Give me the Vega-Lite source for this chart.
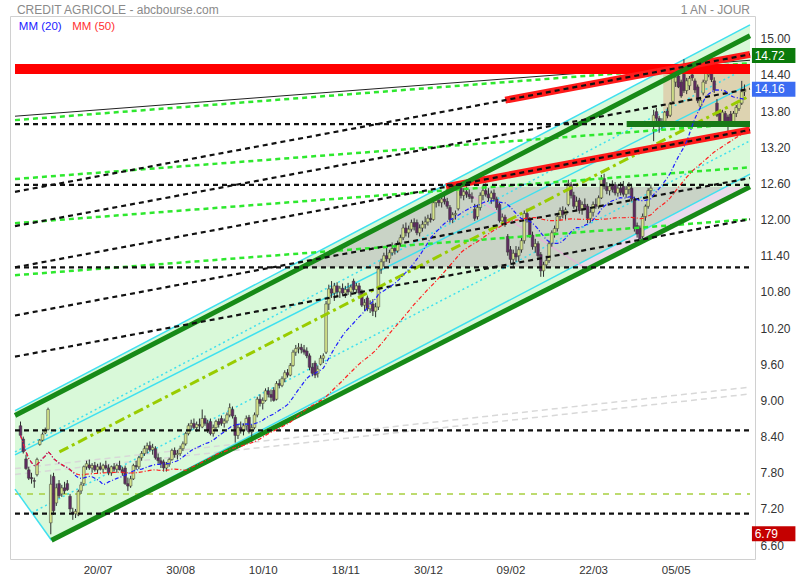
{
"$schema":"https://vega.github.io/schema/vega-lite/v6.json",
"autosize":{"type":"none"},
"width":745,"height":543,
"padding":{"left":10,"top":16,"right":45,"bottom":21},
"background":"white",
"config":{"view":{"stroke":"#d0d0d0","strokeWidth":1},"font":"Liberation Sans",
"axis":{"ticks":false,"domain":false,"grid":false,"labelPadding":5,"labelColor":"#333333","labelFont":"Liberation Sans","labelOverlap":false,"labelFlush":false},
"axisX":{"labelFontSize":11.5},"axisY":{"labelFontSize":12}},
"datasets":{
"k":[
{"t":2,"o":8.58,"h":8.65,"l":8.40,"c":8.42},{"t":3,"o":8.36,"h":8.40,"l":8.12,"c":8.15},{"t":4,"o":8.03,"h":8.10,"l":7.85,"c":7.87},{"t":5,"o":7.85,"h":7.90,"l":7.68,"c":7.71},{"t":6,"o":7.72,"h":7.80,"l":7.62,"c":7.70},{"t":7,"o":7.67,"h":7.72,"l":7.55,"c":7.66},{"t":8,"o":7.77,"h":8.05,"l":7.74,"c":8.02},{"t":9,"o":8.27,"h":8.36,"l":8.25,"c":8.34},{"t":10,"o":8.34,"h":8.47,"l":8.32,"c":8.44},{"t":11,"o":8.46,"h":8.55,"l":8.44,"c":8.50},{"t":12,"o":8.52,"h":8.88,"l":8.50,"c":8.85},{"t":13,"o":6.97,"h":7.77,"l":6.78,"c":7.61},{"t":14,"o":7.74,"h":7.80,"l":7.10,"c":7.17},{"t":15,"o":7.30,"h":7.62,"l":7.25,"c":7.55},{"t":16,"o":7.62,"h":7.68,"l":7.38,"c":7.42},{"t":17,"o":7.45,"h":7.60,"l":7.40,"c":7.55},{"t":18,"o":7.55,"h":7.65,"l":7.45,"c":7.50},{"t":19,"o":7.62,"h":7.68,"l":7.50,"c":7.52},{"t":20,"o":7.41,"h":7.45,"l":7.15,"c":7.20},{"t":21,"o":7.15,"h":7.22,"l":7.02,"c":7.13},{"t":22,"o":7.12,"h":7.20,"l":7.05,"c":7.16},{"t":23,"o":7.10,"h":7.52,"l":7.08,"c":7.49},{"t":24,"o":7.50,"h":7.65,"l":7.45,"c":7.60},{"t":25,"o":7.62,"h":7.92,"l":7.58,"c":7.90},{"t":26,"o":7.90,"h":8.00,"l":7.85,"c":7.95},
{"t":27,"o":7.93,"h":8.02,"l":7.85,"c":7.88},{"t":28,"o":7.88,"h":7.96,"l":7.80,"c":7.92},{"t":29,"o":7.92,"h":7.98,"l":7.82,"c":7.85},{"t":30,"o":7.85,"h":7.95,"l":7.78,"c":7.90},{"t":31,"o":7.90,"h":7.97,"l":7.84,"c":7.86},{"t":32,"o":7.86,"h":7.95,"l":7.80,"c":7.92},{"t":33,"o":7.92,"h":8.00,"l":7.85,"c":7.88},{"t":34,"o":7.88,"h":7.94,"l":7.76,"c":7.80},{"t":35,"o":7.80,"h":7.92,"l":7.75,"c":7.90},{"t":36,"o":7.90,"h":7.96,"l":7.82,"c":7.86},{"t":37,"o":7.86,"h":7.95,"l":7.80,"c":7.92},{"t":38,"o":7.92,"h":8.00,"l":7.84,"c":7.85},{"t":39,"o":7.85,"h":7.90,"l":7.75,"c":7.80},{"t":40,"o":7.88,"h":7.92,"l":7.60,"c":7.62},{"t":41,"o":7.62,"h":7.72,"l":7.50,"c":7.58},{"t":42,"o":7.58,"h":7.75,"l":7.55,"c":7.70},{"t":43,"o":7.70,"h":7.95,"l":7.68,"c":7.92},{"t":44,"o":7.92,"h":8.00,"l":7.85,"c":7.90},{"t":45,"o":7.90,"h":8.08,"l":7.86,"c":8.05},{"t":46,"o":8.05,"h":8.16,"l":8.00,"c":8.12},{"t":47,"o":8.12,"h":8.25,"l":8.08,"c":8.20},{"t":48,"o":8.20,"h":8.30,"l":8.12,"c":8.25},{"t":49,"o":8.25,"h":8.32,"l":8.15,"c":8.18},{"t":50,"o":8.18,"h":8.28,"l":8.10,"c":8.22},
{"t":51,"o":8.20,"h":8.24,"l":8.02,"c":8.05},{"t":52,"o":8.05,"h":8.12,"l":7.95,"c":8.00},{"t":53,"o":8.00,"h":8.06,"l":7.88,"c":7.95},{"t":54,"o":7.98,"h":8.02,"l":7.82,"c":7.88},{"t":55,"o":7.88,"h":7.98,"l":7.82,"c":7.94},{"t":56,"o":7.94,"h":8.05,"l":7.90,"c":8.02},{"t":57,"o":8.02,"h":8.20,"l":8.00,"c":8.17},{"t":58,"o":8.17,"h":8.22,"l":8.05,"c":8.10},{"t":59,"o":8.10,"h":8.18,"l":8.02,"c":8.12},{"t":60,"o":8.12,"h":8.25,"l":8.08,"c":8.20},{"t":61,"o":8.20,"h":8.32,"l":8.16,"c":8.28},{"t":62,"o":8.28,"h":8.48,"l":8.25,"c":8.45},{"t":63,"o":8.45,"h":8.62,"l":8.42,"c":8.58},{"t":64,"o":8.58,"h":8.68,"l":8.50,"c":8.62},{"t":65,"o":8.62,"h":8.70,"l":8.52,"c":8.55},{"t":66,"o":8.55,"h":8.65,"l":8.48,"c":8.60},{"t":67,"o":8.60,"h":8.70,"l":8.52,"c":8.58},{"t":68,"o":8.56,"h":8.85,"l":8.54,"c":8.70},{"t":69,"o":8.70,"h":8.75,"l":8.58,"c":8.62},{"t":70,"o":8.62,"h":8.68,"l":8.46,"c":8.50},{"t":71,"o":8.65,"h":8.70,"l":8.42,"c":8.45},{"t":72,"o":8.45,"h":8.60,"l":8.40,"c":8.55},{"t":73,"o":8.55,"h":8.68,"l":8.50,"c":8.65},{"t":74,"o":8.65,"h":8.70,"l":8.55,"c":8.60},{"t":75,"o":8.70,"h":8.75,"l":8.58,"c":8.62},
{"t":76,"o":8.62,"h":8.70,"l":8.55,"c":8.66},{"t":77,"o":8.66,"h":8.80,"l":8.62,"c":8.76},{"t":78,"o":8.76,"h":8.95,"l":8.72,"c":8.88},{"t":79,"o":8.85,"h":8.90,"l":8.70,"c":8.74},{"t":80,"o":8.72,"h":8.76,"l":8.30,"c":8.42},{"t":81,"o":8.42,"h":8.60,"l":8.36,"c":8.55},{"t":82,"o":8.55,"h":8.65,"l":8.45,"c":8.50},{"t":83,"o":8.50,"h":8.62,"l":8.42,"c":8.58},{"t":84,"o":8.58,"h":8.75,"l":8.50,"c":8.70},{"t":85,"o":8.72,"h":8.76,"l":8.45,"c":8.48},{"t":86,"o":8.48,"h":8.60,"l":8.30,"c":8.55},{"t":87,"o":8.55,"h":8.80,"l":8.52,"c":8.76},{"t":88,"o":8.76,"h":9.06,"l":8.72,"c":9.02},{"t":89,"o":9.02,"h":9.10,"l":8.90,"c":8.95},{"t":90,"o":8.95,"h":9.05,"l":8.85,"c":9.00},{"t":91,"o":9.00,"h":9.20,"l":8.98,"c":9.16},{"t":92,"o":9.16,"h":9.22,"l":9.05,"c":9.10},{"t":93,"o":9.10,"h":9.18,"l":8.98,"c":9.05},{"t":94,"o":9.17,"h":9.22,"l":8.98,"c":9.00},{"t":95,"o":9.02,"h":9.32,"l":9.00,"c":9.28},{"t":96,"o":9.28,"h":9.35,"l":9.20,"c":9.25},{"t":97,"o":9.25,"h":9.40,"l":9.22,"c":9.36},{"t":98,"o":9.36,"h":9.50,"l":9.30,"c":9.46},{"t":99,"o":9.46,"h":9.52,"l":9.38,"c":9.42},{"t":100,"o":9.42,"h":9.62,"l":9.40,"c":9.58},
{"t":101,"o":9.58,"h":9.84,"l":9.56,"c":9.80},{"t":102,"o":9.80,"h":9.92,"l":9.74,"c":9.86},{"t":103,"o":9.86,"h":9.95,"l":9.78,"c":9.88},{"t":104,"o":9.88,"h":9.94,"l":9.78,"c":9.84},{"t":105,"o":9.84,"h":9.92,"l":9.76,"c":9.80},{"t":106,"o":9.82,"h":9.88,"l":9.70,"c":9.74},{"t":107,"o":9.74,"h":9.78,"l":9.50,"c":9.55},{"t":108,"o":9.55,"h":9.62,"l":9.40,"c":9.45},{"t":109,"o":9.62,"h":9.66,"l":9.37,"c":9.42},{"t":110,"o":9.45,"h":9.58,"l":9.38,"c":9.52},{"t":111,"o":9.60,"h":9.75,"l":9.58,"c":9.70},{"t":112,"o":9.70,"h":9.78,"l":9.62,"c":9.74},{"t":113,"o":9.80,"h":10.65,"l":9.77,"c":10.60},{"t":114,"o":10.60,"h":10.92,"l":10.50,"c":10.85},{"t":115,"o":10.85,"h":10.98,"l":10.70,"c":10.78},{"t":116,"o":10.78,"h":10.95,"l":10.65,"c":10.90},{"t":117,"o":10.90,"h":10.96,"l":10.72,"c":10.80},{"t":118,"o":10.80,"h":10.90,"l":10.70,"c":10.86},{"t":119,"o":10.86,"h":10.94,"l":10.74,"c":10.78},{"t":120,"o":10.78,"h":10.90,"l":10.70,"c":10.84},{"t":121,"o":10.84,"h":10.95,"l":10.75,"c":10.80},{"t":122,"o":10.80,"h":10.92,"l":10.72,"c":10.88},{"t":123,"o":10.98,"h":11.02,"l":10.80,"c":10.84},{"t":124,"o":10.84,"h":10.95,"l":10.78,"c":10.90},{"t":125,"o":10.90,"h":10.95,"l":10.74,"c":10.78},
{"t":126,"o":10.80,"h":10.84,"l":10.55,"c":10.58},{"t":127,"o":10.58,"h":10.68,"l":10.48,"c":10.62},{"t":128,"o":10.70,"h":10.74,"l":10.48,"c":10.52},{"t":129,"o":10.52,"h":10.66,"l":10.45,"c":10.60},{"t":130,"o":10.60,"h":10.68,"l":10.40,"c":10.48},{"t":131,"o":10.48,"h":10.62,"l":10.38,"c":10.55},{"t":132,"o":10.55,"h":11.22,"l":10.50,"c":11.18},{"t":133,"o":11.18,"h":11.35,"l":11.10,"c":11.30},{"t":134,"o":11.30,"h":11.45,"l":11.22,"c":11.40},{"t":135,"o":11.40,"h":11.55,"l":11.30,"c":11.35},{"t":136,"o":11.35,"h":11.50,"l":11.28,"c":11.45},{"t":137,"o":11.45,"h":11.62,"l":11.40,"c":11.52},{"t":138,"o":11.52,"h":11.60,"l":11.42,"c":11.48},{"t":139,"o":11.48,"h":11.65,"l":11.45,"c":11.60},{"t":140,"o":11.60,"h":11.75,"l":11.55,"c":11.70},{"t":141,"o":11.70,"h":11.92,"l":11.66,"c":11.86},{"t":142,"o":11.86,"h":11.95,"l":11.72,"c":11.78},{"t":143,"o":11.78,"h":11.90,"l":11.70,"c":11.84},{"t":144,"o":11.84,"h":12.00,"l":11.80,"c":11.95},{"t":145,"o":11.95,"h":12.02,"l":11.82,"c":11.88},{"t":146,"o":11.95,"h":12.00,"l":11.74,"c":11.78},{"t":147,"o":11.78,"h":11.92,"l":11.72,"c":11.86},{"t":148,"o":11.86,"h":11.98,"l":11.80,"c":11.92},{"t":149,"o":11.92,"h":12.05,"l":11.85,"c":11.96},{"t":150,"o":11.96,"h":12.08,"l":11.90,"c":12.02},
{"t":151,"o":12.02,"h":12.10,"l":11.95,"c":12.00},{"t":152,"o":12.00,"h":12.32,"l":11.98,"c":12.28},{"t":153,"o":12.28,"h":12.38,"l":12.20,"c":12.32},{"t":154,"o":12.32,"h":12.40,"l":12.22,"c":12.28},{"t":155,"o":12.28,"h":12.38,"l":12.20,"c":12.34},{"t":156,"o":12.34,"h":12.42,"l":12.25,"c":12.30},{"t":157,"o":12.30,"h":12.36,"l":12.18,"c":12.22},{"t":158,"o":12.20,"h":12.24,"l":11.95,"c":12.00},{"t":159,"o":12.00,"h":12.12,"l":11.94,"c":12.08},{"t":160,"o":12.08,"h":12.15,"l":12.00,"c":12.10},{"t":161,"o":12.18,"h":12.62,"l":12.15,"c":12.52},{"t":162,"o":12.52,"h":12.60,"l":12.35,"c":12.40},{"t":163,"o":12.40,"h":12.52,"l":12.32,"c":12.46},{"t":164,"o":12.46,"h":12.55,"l":12.36,"c":12.42},{"t":165,"o":12.42,"h":12.50,"l":12.34,"c":12.38},{"t":166,"o":12.38,"h":12.45,"l":12.28,"c":12.35},{"t":167,"o":12.17,"h":12.26,"l":11.98,"c":12.02},{"t":168,"o":12.05,"h":12.25,"l":12.00,"c":12.20},{"t":169,"o":12.20,"h":12.45,"l":12.15,"c":12.40},{"t":170,"o":12.40,"h":12.58,"l":12.32,"c":12.48},{"t":171,"o":12.48,"h":12.60,"l":12.38,"c":12.42},{"t":172,"o":12.42,"h":12.52,"l":12.30,"c":12.36},{"t":173,"o":12.36,"h":12.48,"l":12.26,"c":12.44},{"t":174,"o":12.44,"h":12.50,"l":12.30,"c":12.34},{"t":175,"o":12.34,"h":12.38,"l":12.16,"c":12.20},
{"t":176,"o":12.25,"h":12.28,"l":11.95,"c":11.98},{"t":177,"o":11.98,"h":12.10,"l":11.90,"c":12.04},{"t":178,"o":12.04,"h":12.08,"l":11.88,"c":11.92},{"t":179,"o":11.72,"h":11.76,"l":11.40,"c":11.46},{"t":180,"o":11.50,"h":11.56,"l":11.28,"c":11.34},{"t":181,"o":11.34,"h":11.50,"l":11.20,"c":11.44},{"t":182,"o":11.44,"h":11.56,"l":11.30,"c":11.38},{"t":183,"o":11.40,"h":11.55,"l":11.30,"c":11.50},{"t":184,"o":11.50,"h":11.70,"l":11.45,"c":11.65},{"t":185,"o":11.65,"h":12.15,"l":11.60,"c":12.10},{"t":186,"o":12.10,"h":12.18,"l":11.95,"c":12.00},{"t":187,"o":12.00,"h":12.04,"l":11.70,"c":11.74},{"t":188,"o":11.74,"h":11.80,"l":11.50,"c":11.55},{"t":189,"o":11.55,"h":11.68,"l":11.45,"c":11.60},{"t":190,"o":11.60,"h":11.64,"l":11.35,"c":11.40},{"t":191,"o":11.42,"h":11.46,"l":11.05,"c":11.15},{"t":192,"o":11.15,"h":11.30,"l":11.05,"c":11.25},{"t":193,"o":11.25,"h":11.40,"l":11.20,"c":11.32},{"t":194,"o":11.32,"h":11.65,"l":11.28,"c":11.60},{"t":195,"o":11.60,"h":11.82,"l":11.55,"c":11.78},{"t":196,"o":11.78,"h":11.90,"l":11.70,"c":11.85},{"t":197,"o":11.85,"h":12.10,"l":11.80,"c":12.05},{"t":198,"o":12.05,"h":12.20,"l":11.98,"c":12.15},{"t":199,"o":12.15,"h":12.22,"l":12.02,"c":12.08},{"t":200,"o":12.08,"h":12.20,"l":12.00,"c":12.16},
{"t":201,"o":12.25,"h":12.66,"l":12.22,"c":12.60},{"t":202,"o":12.58,"h":12.62,"l":12.35,"c":12.40},{"t":203,"o":12.40,"h":12.46,"l":12.18,"c":12.22},{"t":204,"o":12.22,"h":12.38,"l":12.15,"c":12.30},{"t":205,"o":12.32,"h":12.36,"l":12.10,"c":12.15},{"t":206,"o":12.15,"h":12.30,"l":12.08,"c":12.25},{"t":207,"o":12.25,"h":12.35,"l":12.15,"c":12.20},{"t":208,"o":12.22,"h":12.26,"l":11.94,"c":12.02},{"t":209,"o":12.02,"h":12.18,"l":11.95,"c":12.12},{"t":210,"o":12.12,"h":12.30,"l":12.05,"c":12.25},{"t":211,"o":12.25,"h":12.35,"l":12.18,"c":12.22},{"t":212,"o":12.22,"h":12.40,"l":12.18,"c":12.36},{"t":213,"o":12.36,"h":12.74,"l":12.34,"c":12.68},{"t":214,"o":12.68,"h":12.76,"l":12.50,"c":12.55},{"t":215,"o":12.55,"h":12.62,"l":12.42,"c":12.48},{"t":216,"o":12.48,"h":12.60,"l":12.40,"c":12.55},{"t":217,"o":12.55,"h":12.65,"l":12.45,"c":12.50},{"t":218,"o":12.58,"h":12.62,"l":12.40,"c":12.44},{"t":219,"o":12.44,"h":12.58,"l":12.38,"c":12.52},{"t":220,"o":12.52,"h":12.62,"l":12.40,"c":12.45},{"t":221,"o":12.55,"h":12.64,"l":12.38,"c":12.42},{"t":222,"o":12.42,"h":12.56,"l":12.36,"c":12.50},{"t":223,"o":12.50,"h":12.62,"l":12.42,"c":12.55},{"t":224,"o":12.52,"h":12.56,"l":12.30,"c":12.34},{"t":225,"o":12.34,"h":12.38,"l":11.80,"c":11.85},
{"t":226,"o":11.90,"h":11.95,"l":11.70,"c":11.76},{"t":227,"o":11.86,"h":11.90,"l":11.62,"c":11.68},{"t":228,"o":11.72,"h":12.10,"l":11.68,"c":12.05},{"t":229,"o":12.05,"h":12.25,"l":11.98,"c":12.22},{"t":230,"o":12.22,"h":12.52,"l":12.18,"c":12.48},{"t":231,"o":12.48,"h":12.58,"l":12.40,"c":12.52},{"t":232,"o":13.60,"h":13.82,"l":13.30,"c":13.73},{"t":233,"o":13.79,"h":13.85,"l":13.62,"c":13.68},{"t":234,"o":13.68,"h":13.72,"l":13.44,"c":13.55},{"t":235,"o":13.58,"h":13.68,"l":13.50,"c":13.62},{"t":236,"o":13.63,"h":13.80,"l":13.58,"c":13.78},{"t":237,"o":13.80,"h":13.86,"l":13.68,"c":13.72},{"t":238,"o":13.73,"h":13.95,"l":13.70,"c":13.92},{"t":239,"o":13.96,"h":14.40,"l":13.94,"c":14.37},{"t":240,"o":14.28,"h":14.40,"l":14.20,"c":14.36},{"t":241,"o":14.38,"h":14.45,"l":14.18,"c":14.20},{"t":242,"o":14.28,"h":14.32,"l":14.02,"c":14.05},{"t":243,"o":14.41,"h":14.66,"l":14.10,"c":14.14},{"t":244,"o":14.14,"h":14.35,"l":14.08,"c":14.30},{"t":245,"o":14.22,"h":14.38,"l":14.15,"c":14.34},{"t":246,"o":14.40,"h":14.45,"l":14.30,"c":14.35},{"t":247,"o":14.30,"h":14.34,"l":14.10,"c":14.15},{"t":248,"o":14.20,"h":14.24,"l":13.93,"c":13.97},{"t":249,"o":13.88,"h":14.02,"l":13.84,"c":13.98},{"t":250,"o":14.10,"h":14.32,"l":14.06,"c":14.28},
{"t":251,"o":14.30,"h":14.48,"l":14.25,"c":14.45},{"t":252,"o":14.40,"h":14.72,"l":14.36,"c":14.46},{"t":253,"o":14.46,"h":14.52,"l":14.28,"c":14.32},{"t":254,"o":14.30,"h":14.36,"l":14.10,"c":14.15},{"t":255,"o":13.93,"h":14.00,"l":13.70,"c":13.73},{"t":256,"o":13.76,"h":13.82,"l":13.58,"c":13.62},{"t":257,"o":13.62,"h":13.82,"l":13.58,"c":13.78},{"t":258,"o":13.76,"h":13.80,"l":13.55,"c":13.60},{"t":259,"o":13.70,"h":13.74,"l":13.39,"c":13.62},{"t":260,"o":13.75,"h":13.80,"l":13.55,"c":13.60},{"t":261,"o":13.62,"h":13.80,"l":13.58,"c":13.76},{"t":262,"o":13.76,"h":13.90,"l":13.70,"c":13.86},{"t":263,"o":13.84,"h":13.98,"l":13.80,"c":13.95},{"t":264,"o":13.93,"h":14.30,"l":13.90,"c":14.12},{"t":265,"o":14.12,"h":14.24,"l":14.05,"c":14.16}
],
"zones":[
{"zone":"channel","t":0,"top":8.830,"bot":7.528},{"zone":"channel","t":13.26,"top":9.148,"bot":6.681},{"zone":"channel","t":267,"top":15.228,"bot":12.542},
{"zone":"range","t":104.1,"top":11.207,"bot":11.207},{"zone":"range","t":160.6,"top":12.541,"bot":11.207},{"zone":"range","t":202.2,"top":12.541,"bot":11.207},{"zone":"range","t":258.1,"top":12.541,"bot":12.541},
{"zone":"wedge","t":202.2,"top":11.207,"bot":11.207},{"zone":"wedge","t":208.6,"top":11.355,"bot":11.207},{"zone":"wedge","t":258.1,"top":12.541,"bot":12.335},{"zone":"wedge","t":266.3,"top":12.541,"bot":12.541}
],
"box":[{"t":235.5,"t2":267,"top":14.446,"bot":13.617}],
"lines":[
{"id":"s1","kind":"support","t":0,"p":13.584},{"id":"s1","kind":"support","t":267,"p":13.584},
{"id":"s2","kind":"support","t":0,"p":12.574},{"id":"s2","kind":"support","t":267,"p":12.574},
{"id":"s3","kind":"support","t":0,"p":11.207},{"id":"s3","kind":"support","t":267,"p":11.207},
{"id":"s4","kind":"support","t":0,"p":8.505},{"id":"s4","kind":"support","t":267,"p":8.505},
{"id":"s5","kind":"support","t":0,"p":7.121},{"id":"s5","kind":"support","t":267,"p":7.121},
{"id":"y1","kind":"minor","t":0,"p":7.447},{"id":"y1","kind":"minor","t":267,"p":7.447},
{"id":"v1","kind":"level","t":222.2,"p":13.584},{"id":"v1","kind":"level","t":267,"p":13.584},
{"id":"a1","kind":"ref","t":0,"p":13.714},{"id":"a1","kind":"ref","t":267,"p":14.642},
{"id":"g1","kind":"trendG","t":0,"p":13.649},{"id":"g1","kind":"trendG","t":267,"p":14.593},
{"id":"g2","kind":"trendG","t":0,"p":12.672},{"id":"g2","kind":"trendG","t":267,"p":13.600},
{"id":"g3","kind":"trendG","t":0,"p":11.939},{"id":"g3","kind":"trendG","t":267,"p":12.867},
{"id":"g4","kind":"trendG","t":0,"p":11.077},{"id":"g4","kind":"trendG","t":267,"p":12.005},
{"id":"b1","kind":"trendB","t":0,"p":12.460},{"id":"b1","kind":"trendB","t":267,"p":14.739},
{"id":"b2","kind":"trendB","t":0,"p":11.891},{"id":"b2","kind":"trendB","t":267,"p":14.170},
{"id":"b3","kind":"trendB","t":0,"p":11.207},{"id":"b3","kind":"trendB","t":267,"p":13.486},
{"id":"b4","kind":"trendB","t":0,"p":10.409},{"id":"b4","kind":"trendB","t":267,"p":12.688},
{"id":"b5","kind":"trendB","t":0,"p":9.726},{"id":"b5","kind":"trendB","t":267,"p":12.005},
{"id":"r1","kind":"resist","t":156.6,"p":12.545},{"id":"r1","kind":"resist","t":267,"p":13.486},
{"id":"r2","kind":"resist","t":178.1,"p":13.981},{"id":"r2","kind":"resist","t":267,"p":14.739},
{"id":"h1","kind":"band","t":0,"p":14.495},{"id":"h1","kind":"band","t":267,"p":14.495},
{"id":"ch1","kind":"channel","t":0,"p":8.749},{"id":"ch1","kind":"channel","t":267,"p":15.049},
{"id":"ch2","kind":"channel","t":13.26,"p":6.681},{"id":"ch2","kind":"channel","t":267,"p":12.542},
{"id":"c1","kind":"reg","t":0,"p":8.830},{"id":"c1","kind":"reg","t":267,"p":15.228},
{"id":"c2","kind":"reg","t":0,"p":8.098},{"id":"c2","kind":"reg","t":267,"p":14.251},
{"id":"c4","kind":"reg","t":13.26,"p":6.681},{"id":"c4","kind":"reg","t":267,"p":12.753},
{"id":"c5","kind":"reg","t":0,"p":7.528},{"id":"c5","kind":"reg","t":13.26,"p":6.681},
{"id":"d1","kind":"regdot","t":0,"p":8.146},{"id":"d1","kind":"regdot","t":267,"p":14.544},
{"id":"d2","kind":"regdot","t":6.09,"p":7.137},{"id":"d2","kind":"regdot","t":267,"p":13.307},
{"id":"m1","kind":"median","t":16.13,"p":8.146},{"id":"m1","kind":"median","t":267,"p":14.056},
{"id":"f1","kind":"faint","t":0,"p":7.870},{"id":"f1","kind":"faint","t":267,"p":9.221},
{"id":"f2","kind":"faint","t":0,"p":7.772},{"id":"f2","kind":"faint","t":267,"p":9.107},
{"id":"k1","kind":"diag","t":160.2,"p":12.558},{"id":"k1","kind":"diag","t":206.8,"p":11.207}
],
"tags":[{"lab":"14.72","p":14.72},{"lab":"14.16","p":14.16},{"lab":"6.79","p":6.79}]
},
"layer":[
{"data":{"name":"zones"},"transform":[{"filter":"datum.zone=='channel'"}],"mark":{"type":"area","color":"#d9f9d9","clip":true},"encoding":{"x":{"field":"t","type":"quantitative","title":null,"scale":{"domain":[0,267],"nice":false,"zero":false},"axis":{"values":[30,60,90,120,150,180,210,240],"labelExpr":"['20/07','30/08','10/10','18/11','30/12','09/02','22/03','05/05'][round(datum.value/30)-1]","labelOverlap":false,"title":null}},"y":{"field":"top","type":"quantitative","title":null,"scale":{"domain":[6.453,15.293],"nice":false,"zero":false},"axis":{"orient":"right","values":[6.6,7.2,7.8,8.4,9.0,9.6,10.2,10.8,11.4,12.0,12.6,13.2,13.8,14.4,15.0],"format":".2f","labelOverlap":false,"title":null}},"y2":{"field":"bot"}}},
{"data":{"name":"zones"},"transform":[{"filter":"datum.zone=='range'"}],"mark":{"type":"area","color":"#c9d3c6","clip":true},"encoding":{"x":{"field":"t","type":"quantitative","title":null,"scale":{"domain":[0,267],"nice":false,"zero":false},"axis":{"values":[30,60,90,120,150,180,210,240],"labelExpr":"['20/07','30/08','10/10','18/11','30/12','09/02','22/03','05/05'][round(datum.value/30)-1]","labelOverlap":false,"title":null}},"y":{"field":"top","type":"quantitative","title":null,"scale":{"domain":[6.453,15.293],"nice":false,"zero":false},"axis":{"orient":"right","values":[6.6,7.2,7.8,8.4,9.0,9.6,10.2,10.8,11.4,12.0,12.6,13.2,13.8,14.4,15.0],"format":".2f","labelOverlap":false,"title":null}},"y2":{"field":"bot"}}},
{"data":{"name":"zones"},"transform":[{"filter":"datum.zone=='wedge'"}],"mark":{"type":"area","color":"#eadbea","clip":true},"encoding":{"x":{"field":"t","type":"quantitative","title":null,"scale":{"domain":[0,267],"nice":false,"zero":false},"axis":{"values":[30,60,90,120,150,180,210,240],"labelExpr":"['20/07','30/08','10/10','18/11','30/12','09/02','22/03','05/05'][round(datum.value/30)-1]","labelOverlap":false,"title":null}},"y":{"field":"top","type":"quantitative","title":null,"scale":{"domain":[6.453,15.293],"nice":false,"zero":false},"axis":{"orient":"right","values":[6.6,7.2,7.8,8.4,9.0,9.6,10.2,10.8,11.4,12.0,12.6,13.2,13.8,14.4,15.0],"format":".2f","labelOverlap":false,"title":null}},"y2":{"field":"bot"}}},
{"data":{"name":"box"},"mark":{"type":"rect","color":"#ddd3b1","clip":true},"encoding":{"x":{"field":"t","type":"quantitative","title":null,"scale":{"domain":[0,267],"nice":false,"zero":false},"axis":{"values":[30,60,90,120,150,180,210,240],"labelExpr":"['20/07','30/08','10/10','18/11','30/12','09/02','22/03','05/05'][round(datum.value/30)-1]","labelOverlap":false,"title":null}},"x2":{"field":"t2"},"y":{"field":"top","type":"quantitative","title":null,"scale":{"domain":[6.453,15.293],"nice":false,"zero":false},"axis":{"orient":"right","values":[6.6,7.2,7.8,8.4,9.0,9.6,10.2,10.8,11.4,12.0,12.6,13.2,13.8,14.4,15.0],"format":".2f","labelOverlap":false,"title":null}},"y2":{"field":"bot"}}},
{"data":{"name":"lines"},"transform":[{"filter":"datum.kind=='faint'"}],"mark":{"type":"line","color":"#d8d8d8","strokeWidth":1.5,"strokeDash":[6,4],"clip":true},"encoding":{"x":{"field":"t","type":"quantitative","title":null,"scale":{"domain":[0,267],"nice":false,"zero":false},"axis":{"values":[30,60,90,120,150,180,210,240],"labelExpr":"['20/07','30/08','10/10','18/11','30/12','09/02','22/03','05/05'][round(datum.value/30)-1]","labelOverlap":false,"title":null}},"y":{"field":"p","type":"quantitative","title":null,"scale":{"domain":[6.453,15.293],"nice":false,"zero":false},"axis":{"orient":"right","values":[6.6,7.2,7.8,8.4,9.0,9.6,10.2,10.8,11.4,12.0,12.6,13.2,13.8,14.4,15.0],"format":".2f","labelOverlap":false,"title":null}},"detail":{"field":"id"}}},
{"data":{"name":"lines"},"transform":[{"filter":"datum.kind=='minor'"}],"mark":{"type":"line","color":"#a8d040","strokeWidth":1.5,"strokeDash":[6,6],"clip":true},"encoding":{"x":{"field":"t","type":"quantitative","title":null,"scale":{"domain":[0,267],"nice":false,"zero":false},"axis":{"values":[30,60,90,120,150,180,210,240],"labelExpr":"['20/07','30/08','10/10','18/11','30/12','09/02','22/03','05/05'][round(datum.value/30)-1]","labelOverlap":false,"title":null}},"y":{"field":"p","type":"quantitative","title":null,"scale":{"domain":[6.453,15.293],"nice":false,"zero":false},"axis":{"orient":"right","values":[6.6,7.2,7.8,8.4,9.0,9.6,10.2,10.8,11.4,12.0,12.6,13.2,13.8,14.4,15.0],"format":".2f","labelOverlap":false,"title":null}},"detail":{"field":"id"}}},
{"data":{"name":"lines"},"transform":[{"filter":"datum.kind=='reg'"}],"mark":{"type":"line","color":"#3fe0ef","strokeWidth":1.5,"clip":true},"encoding":{"x":{"field":"t","type":"quantitative","title":null,"scale":{"domain":[0,267],"nice":false,"zero":false},"axis":{"values":[30,60,90,120,150,180,210,240],"labelExpr":"['20/07','30/08','10/10','18/11','30/12','09/02','22/03','05/05'][round(datum.value/30)-1]","labelOverlap":false,"title":null}},"y":{"field":"p","type":"quantitative","title":null,"scale":{"domain":[6.453,15.293],"nice":false,"zero":false},"axis":{"orient":"right","values":[6.6,7.2,7.8,8.4,9.0,9.6,10.2,10.8,11.4,12.0,12.6,13.2,13.8,14.4,15.0],"format":".2f","labelOverlap":false,"title":null}},"detail":{"field":"id"}}},
{"data":{"name":"lines"},"transform":[{"filter":"datum.kind=='regdot'"}],"mark":{"type":"line","color":"#3fe0ef","strokeWidth":1.5,"strokeDash":[2,3],"clip":true},"encoding":{"x":{"field":"t","type":"quantitative","title":null,"scale":{"domain":[0,267],"nice":false,"zero":false},"axis":{"values":[30,60,90,120,150,180,210,240],"labelExpr":"['20/07','30/08','10/10','18/11','30/12','09/02','22/03','05/05'][round(datum.value/30)-1]","labelOverlap":false,"title":null}},"y":{"field":"p","type":"quantitative","title":null,"scale":{"domain":[6.453,15.293],"nice":false,"zero":false},"axis":{"orient":"right","values":[6.6,7.2,7.8,8.4,9.0,9.6,10.2,10.8,11.4,12.0,12.6,13.2,13.8,14.4,15.0],"format":".2f","labelOverlap":false,"title":null}},"detail":{"field":"id"}}},
{"data":{"name":"lines"},"transform":[{"filter":"datum.kind=='diag'"}],"mark":{"type":"line","color":"#e2b6d6","strokeWidth":1.5,"clip":true},"encoding":{"x":{"field":"t","type":"quantitative","title":null,"scale":{"domain":[0,267],"nice":false,"zero":false},"axis":{"values":[30,60,90,120,150,180,210,240],"labelExpr":"['20/07','30/08','10/10','18/11','30/12','09/02','22/03','05/05'][round(datum.value/30)-1]","labelOverlap":false,"title":null}},"y":{"field":"p","type":"quantitative","title":null,"scale":{"domain":[6.453,15.293],"nice":false,"zero":false},"axis":{"orient":"right","values":[6.6,7.2,7.8,8.4,9.0,9.6,10.2,10.8,11.4,12.0,12.6,13.2,13.8,14.4,15.0],"format":".2f","labelOverlap":false,"title":null}},"detail":{"field":"id"}}},
{"data":{"name":"k"},"mark":{"type":"rule","color":"#2e2e2e","strokeWidth":1,"clip":true},"encoding":{"x":{"field":"t","type":"quantitative","title":null,"scale":{"domain":[0,267],"nice":false,"zero":false},"axis":{"values":[30,60,90,120,150,180,210,240],"labelExpr":"['20/07','30/08','10/10','18/11','30/12','09/02','22/03','05/05'][round(datum.value/30)-1]","labelOverlap":false,"title":null}},"y":{"field":"l","type":"quantitative","title":null,"scale":{"domain":[6.453,15.293],"nice":false,"zero":false},"axis":{"orient":"right","values":[6.6,7.2,7.8,8.4,9.0,9.6,10.2,10.8,11.4,12.0,12.6,13.2,13.8,14.4,15.0],"format":".2f","labelOverlap":false,"title":null}},"y2":{"field":"h"}}},
{"data":{"name":"k"},"mark":{"type":"bar","orient":"vertical","size":2.7,"stroke":"#3a3a3a","strokeWidth":0.5,"clip":true},"encoding":{"x":{"field":"t","type":"quantitative","title":null,"scale":{"domain":[0,267],"nice":false,"zero":false},"axis":{"values":[30,60,90,120,150,180,210,240],"labelExpr":"['20/07','30/08','10/10','18/11','30/12','09/02','22/03','05/05'][round(datum.value/30)-1]","labelOverlap":false,"title":null}},"y":{"field":"o","type":"quantitative","title":null,"scale":{"domain":[6.453,15.293],"nice":false,"zero":false},"axis":{"orient":"right","values":[6.6,7.2,7.8,8.4,9.0,9.6,10.2,10.8,11.4,12.0,12.6,13.2,13.8,14.4,15.0],"format":".2f","labelOverlap":false,"title":null}},"y2":{"field":"c"},"fill":{"condition":{"test":"datum.c >= datum.o","value":"#d3e38a"},"value":"#5e2b60"}}},
{"data":{"name":"lines"},"transform":[{"filter":"datum.kind=='median'"}],"mark":{"type":"line","color":"#99cc00","strokeWidth":3,"strokeDash":[10,4,3,4],"clip":true},"encoding":{"x":{"field":"t","type":"quantitative","title":null,"scale":{"domain":[0,267],"nice":false,"zero":false},"axis":{"values":[30,60,90,120,150,180,210,240],"labelExpr":"['20/07','30/08','10/10','18/11','30/12','09/02','22/03','05/05'][round(datum.value/30)-1]","labelOverlap":false,"title":null}},"y":{"field":"p","type":"quantitative","title":null,"scale":{"domain":[6.453,15.293],"nice":false,"zero":false},"axis":{"orient":"right","values":[6.6,7.2,7.8,8.4,9.0,9.6,10.2,10.8,11.4,12.0,12.6,13.2,13.8,14.4,15.0],"format":".2f","labelOverlap":false,"title":null}},"detail":{"field":"id"}}},
{"data":{"name":"lines"},"transform":[{"filter":"datum.kind=='trendG'"}],"mark":{"type":"line","color":"#2ee82e","strokeWidth":2.5,"strokeDash":[5,4],"clip":true},"encoding":{"x":{"field":"t","type":"quantitative","title":null,"scale":{"domain":[0,267],"nice":false,"zero":false},"axis":{"values":[30,60,90,120,150,180,210,240],"labelExpr":"['20/07','30/08','10/10','18/11','30/12','09/02','22/03','05/05'][round(datum.value/30)-1]","labelOverlap":false,"title":null}},"y":{"field":"p","type":"quantitative","title":null,"scale":{"domain":[6.453,15.293],"nice":false,"zero":false},"axis":{"orient":"right","values":[6.6,7.2,7.8,8.4,9.0,9.6,10.2,10.8,11.4,12.0,12.6,13.2,13.8,14.4,15.0],"format":".2f","labelOverlap":false,"title":null}},"detail":{"field":"id"}}},
{"data":{"name":"lines"},"transform":[{"filter":"datum.kind=='ref'"}],"mark":{"type":"line","color":"#222222","strokeWidth":1,"clip":true},"encoding":{"x":{"field":"t","type":"quantitative","title":null,"scale":{"domain":[0,267],"nice":false,"zero":false},"axis":{"values":[30,60,90,120,150,180,210,240],"labelExpr":"['20/07','30/08','10/10','18/11','30/12','09/02','22/03','05/05'][round(datum.value/30)-1]","labelOverlap":false,"title":null}},"y":{"field":"p","type":"quantitative","title":null,"scale":{"domain":[6.453,15.293],"nice":false,"zero":false},"axis":{"orient":"right","values":[6.6,7.2,7.8,8.4,9.0,9.6,10.2,10.8,11.4,12.0,12.6,13.2,13.8,14.4,15.0],"format":".2f","labelOverlap":false,"title":null}},"detail":{"field":"id"}}},
{"data":{"name":"lines"},"transform":[{"filter":"datum.kind=='band'"}],"mark":{"type":"line","color":"#ff0000","strokeWidth":10,"clip":true},"encoding":{"x":{"field":"t","type":"quantitative","title":null,"scale":{"domain":[0,267],"nice":false,"zero":false},"axis":{"values":[30,60,90,120,150,180,210,240],"labelExpr":"['20/07','30/08','10/10','18/11','30/12','09/02','22/03','05/05'][round(datum.value/30)-1]","labelOverlap":false,"title":null}},"y":{"field":"p","type":"quantitative","title":null,"scale":{"domain":[6.453,15.293],"nice":false,"zero":false},"axis":{"orient":"right","values":[6.6,7.2,7.8,8.4,9.0,9.6,10.2,10.8,11.4,12.0,12.6,13.2,13.8,14.4,15.0],"format":".2f","labelOverlap":false,"title":null}},"detail":{"field":"id"}}},
{"data":{"name":"lines"},"transform":[{"filter":"datum.kind=='resist'"}],"mark":{"type":"line","color":"#ff1a1a","strokeWidth":7,"clip":true},"encoding":{"x":{"field":"t","type":"quantitative","title":null,"scale":{"domain":[0,267],"nice":false,"zero":false},"axis":{"values":[30,60,90,120,150,180,210,240],"labelExpr":"['20/07','30/08','10/10','18/11','30/12','09/02','22/03','05/05'][round(datum.value/30)-1]","labelOverlap":false,"title":null}},"y":{"field":"p","type":"quantitative","title":null,"scale":{"domain":[6.453,15.293],"nice":false,"zero":false},"axis":{"orient":"right","values":[6.6,7.2,7.8,8.4,9.0,9.6,10.2,10.8,11.4,12.0,12.6,13.2,13.8,14.4,15.0],"format":".2f","labelOverlap":false,"title":null}},"detail":{"field":"id"}}},
{"data":{"name":"lines"},"transform":[{"filter":"datum.kind=='channel'"}],"mark":{"type":"line","color":"#178a17","strokeWidth":5,"clip":true},"encoding":{"x":{"field":"t","type":"quantitative","title":null,"scale":{"domain":[0,267],"nice":false,"zero":false},"axis":{"values":[30,60,90,120,150,180,210,240],"labelExpr":"['20/07','30/08','10/10','18/11','30/12','09/02','22/03','05/05'][round(datum.value/30)-1]","labelOverlap":false,"title":null}},"y":{"field":"p","type":"quantitative","title":null,"scale":{"domain":[6.453,15.293],"nice":false,"zero":false},"axis":{"orient":"right","values":[6.6,7.2,7.8,8.4,9.0,9.6,10.2,10.8,11.4,12.0,12.6,13.2,13.8,14.4,15.0],"format":".2f","labelOverlap":false,"title":null}},"detail":{"field":"id"}}},
{"data":{"name":"lines"},"transform":[{"filter":"datum.kind=='support' || datum.kind=='trendB'"}],"mark":{"type":"line","color":"#111111","strokeWidth":2.2,"strokeDash":[5,4],"clip":true},"encoding":{"x":{"field":"t","type":"quantitative","title":null,"scale":{"domain":[0,267],"nice":false,"zero":false},"axis":{"values":[30,60,90,120,150,180,210,240],"labelExpr":"['20/07','30/08','10/10','18/11','30/12','09/02','22/03','05/05'][round(datum.value/30)-1]","labelOverlap":false,"title":null}},"y":{"field":"p","type":"quantitative","title":null,"scale":{"domain":[6.453,15.293],"nice":false,"zero":false},"axis":{"orient":"right","values":[6.6,7.2,7.8,8.4,9.0,9.6,10.2,10.8,11.4,12.0,12.6,13.2,13.8,14.4,15.0],"format":".2f","labelOverlap":false,"title":null}},"detail":{"field":"id"}}},
{"data":{"name":"lines"},"transform":[{"filter":"datum.kind=='level'"}],"mark":{"type":"line","color":"#177a17","strokeWidth":6,"clip":true},"encoding":{"x":{"field":"t","type":"quantitative","title":null,"scale":{"domain":[0,267],"nice":false,"zero":false},"axis":{"values":[30,60,90,120,150,180,210,240],"labelExpr":"['20/07','30/08','10/10','18/11','30/12','09/02','22/03','05/05'][round(datum.value/30)-1]","labelOverlap":false,"title":null}},"y":{"field":"p","type":"quantitative","title":null,"scale":{"domain":[6.453,15.293],"nice":false,"zero":false},"axis":{"orient":"right","values":[6.6,7.2,7.8,8.4,9.0,9.6,10.2,10.8,11.4,12.0,12.6,13.2,13.8,14.4,15.0],"format":".2f","labelOverlap":false,"title":null}},"detail":{"field":"id"}}},
{"data":{"name":"k"},"transform":[{"window":[{"op":"mean","field":"c","as":"mm20"}],"frame":[-19,0],"sort":[{"field":"t"}]}],"mark":{"type":"line","color":"#1e1eff","strokeWidth":1.2,"strokeDash":[4,2,1,2],"clip":true},"encoding":{"x":{"field":"t","type":"quantitative","title":null,"scale":{"domain":[0,267],"nice":false,"zero":false},"axis":{"values":[30,60,90,120,150,180,210,240],"labelExpr":"['20/07','30/08','10/10','18/11','30/12','09/02','22/03','05/05'][round(datum.value/30)-1]","labelOverlap":false,"title":null}},"y":{"field":"mm20","type":"quantitative","title":null,"scale":{"domain":[6.453,15.293],"nice":false,"zero":false},"axis":{"orient":"right","values":[6.6,7.2,7.8,8.4,9.0,9.6,10.2,10.8,11.4,12.0,12.6,13.2,13.8,14.4,15.0],"format":".2f","labelOverlap":false,"title":null}}}},
{"data":{"name":"k"},"transform":[{"window":[{"op":"mean","field":"c","as":"mm50"}],"frame":[-49,0],"sort":[{"field":"t"}]}],"mark":{"type":"line","color":"#ff2020","strokeWidth":1.2,"strokeDash":[4,2,1,2],"clip":true},"encoding":{"x":{"field":"t","type":"quantitative","title":null,"scale":{"domain":[0,267],"nice":false,"zero":false},"axis":{"values":[30,60,90,120,150,180,210,240],"labelExpr":"['20/07','30/08','10/10','18/11','30/12','09/02','22/03','05/05'][round(datum.value/30)-1]","labelOverlap":false,"title":null}},"y":{"field":"mm50","type":"quantitative","title":null,"scale":{"domain":[6.453,15.293],"nice":false,"zero":false},"axis":{"orient":"right","values":[6.6,7.2,7.8,8.4,9.0,9.6,10.2,10.8,11.4,12.0,12.6,13.2,13.8,14.4,15.0],"format":".2f","labelOverlap":false,"title":null}}}},
{"data":{"name":"tags"},"mark":{"type":"bar","orient":"horizontal","size":15,"clip":false},"encoding":{"x":{"datum":267.7,"type":"quantitative","title":null,"scale":{"domain":[0,267],"nice":false,"zero":false},"axis":{"values":[30,60,90,120,150,180,210,240],"labelExpr":"['20/07','30/08','10/10','18/11','30/12','09/02','22/03','05/05'][round(datum.value/30)-1]","labelOverlap":false,"title":null}},"x2":{"datum":283.5},"y":{"field":"p","type":"quantitative","title":null,"scale":{"domain":[6.453,15.293],"nice":false,"zero":false},"axis":{"orient":"right","values":[6.6,7.2,7.8,8.4,9.0,9.6,10.2,10.8,11.4,12.0,12.6,13.2,13.8,14.4,15.0],"format":".2f","labelOverlap":false,"title":null}},"color":{"field":"lab","type":"nominal","scale":{"domain":["14.72","14.16","6.79"],"range":["#0b7a0b","#3b6cf2","#c40000"]},"legend":null}}},
{"data":{"name":"tags"},"mark":{"type":"text","align":"left","baseline":"middle","color":"white","fontSize":12,"font":"Liberation Sans","clip":false},"encoding":{"x":{"datum":268.7,"type":"quantitative","title":null,"scale":{"domain":[0,267],"nice":false,"zero":false},"axis":{"values":[30,60,90,120,150,180,210,240],"labelExpr":"['20/07','30/08','10/10','18/11','30/12','09/02','22/03','05/05'][round(datum.value/30)-1]","labelOverlap":false,"title":null}},"y":{"field":"p","type":"quantitative","title":null,"scale":{"domain":[6.453,15.293],"nice":false,"zero":false},"axis":{"orient":"right","values":[6.6,7.2,7.8,8.4,9.0,9.6,10.2,10.8,11.4,12.0,12.6,13.2,13.8,14.4,15.0],"format":".2f","labelOverlap":false,"title":null}},"text":{"field":"lab"}}},
{"data":{"values":[{}]},"mark":{"type":"text","text":"CREDIT AGRICOLE - abcbourse.com","align":"left","baseline":"middle","color":"#8a8a8a","fontSize":12,"font":"Liberation Sans"},"encoding":{"x":{"datum":0.7,"type":"quantitative","title":null,"scale":{"domain":[0,267],"nice":false,"zero":false},"axis":{"values":[30,60,90,120,150,180,210,240],"labelExpr":"['20/07','30/08','10/10','18/11','30/12','09/02','22/03','05/05'][round(datum.value/30)-1]","labelOverlap":false,"title":null}},"y":{"datum":15.48,"type":"quantitative","title":null,"scale":{"domain":[6.453,15.293],"nice":false,"zero":false},"axis":{"orient":"right","values":[6.6,7.2,7.8,8.4,9.0,9.6,10.2,10.8,11.4,12.0,12.6,13.2,13.8,14.4,15.0],"format":".2f","labelOverlap":false,"title":null}}}},
{"data":{"values":[{}]},"mark":{"type":"text","text":"1 AN - JOUR","align":"right","baseline":"middle","color":"#8a8a8a","fontSize":12,"font":"Liberation Sans"},"encoding":{"x":{"datum":267,"type":"quantitative","title":null,"scale":{"domain":[0,267],"nice":false,"zero":false},"axis":{"values":[30,60,90,120,150,180,210,240],"labelExpr":"['20/07','30/08','10/10','18/11','30/12','09/02','22/03','05/05'][round(datum.value/30)-1]","labelOverlap":false,"title":null}},"y":{"datum":15.48,"type":"quantitative","title":null,"scale":{"domain":[6.453,15.293],"nice":false,"zero":false},"axis":{"orient":"right","values":[6.6,7.2,7.8,8.4,9.0,9.6,10.2,10.8,11.4,12.0,12.6,13.2,13.8,14.4,15.0],"format":".2f","labelOverlap":false,"title":null}}}},
{"data":{"values":[{}]},"mark":{"type":"text","text":"MM (20)","align":"left","baseline":"middle","color":"#2020ff","fontSize":11.5,"font":"Liberation Sans"},"encoding":{"x":{"datum":1.4,"type":"quantitative","title":null,"scale":{"domain":[0,267],"nice":false,"zero":false},"axis":{"values":[30,60,90,120,150,180,210,240],"labelExpr":"['20/07','30/08','10/10','18/11','30/12','09/02','22/03','05/05'][round(datum.value/30)-1]","labelOverlap":false,"title":null}},"y":{"datum":15.2,"type":"quantitative","title":null,"scale":{"domain":[6.453,15.293],"nice":false,"zero":false},"axis":{"orient":"right","values":[6.6,7.2,7.8,8.4,9.0,9.6,10.2,10.8,11.4,12.0,12.6,13.2,13.8,14.4,15.0],"format":".2f","labelOverlap":false,"title":null}}}},
{"data":{"values":[{}]},"mark":{"type":"text","text":"MM (50)","align":"left","baseline":"middle","color":"#ff3030","fontSize":11.5,"font":"Liberation Sans"},"encoding":{"x":{"datum":20.8,"type":"quantitative","title":null,"scale":{"domain":[0,267],"nice":false,"zero":false},"axis":{"values":[30,60,90,120,150,180,210,240],"labelExpr":"['20/07','30/08','10/10','18/11','30/12','09/02','22/03','05/05'][round(datum.value/30)-1]","labelOverlap":false,"title":null}},"y":{"datum":15.2,"type":"quantitative","title":null,"scale":{"domain":[6.453,15.293],"nice":false,"zero":false},"axis":{"orient":"right","values":[6.6,7.2,7.8,8.4,9.0,9.6,10.2,10.8,11.4,12.0,12.6,13.2,13.8,14.4,15.0],"format":".2f","labelOverlap":false,"title":null}}}}
]
}
